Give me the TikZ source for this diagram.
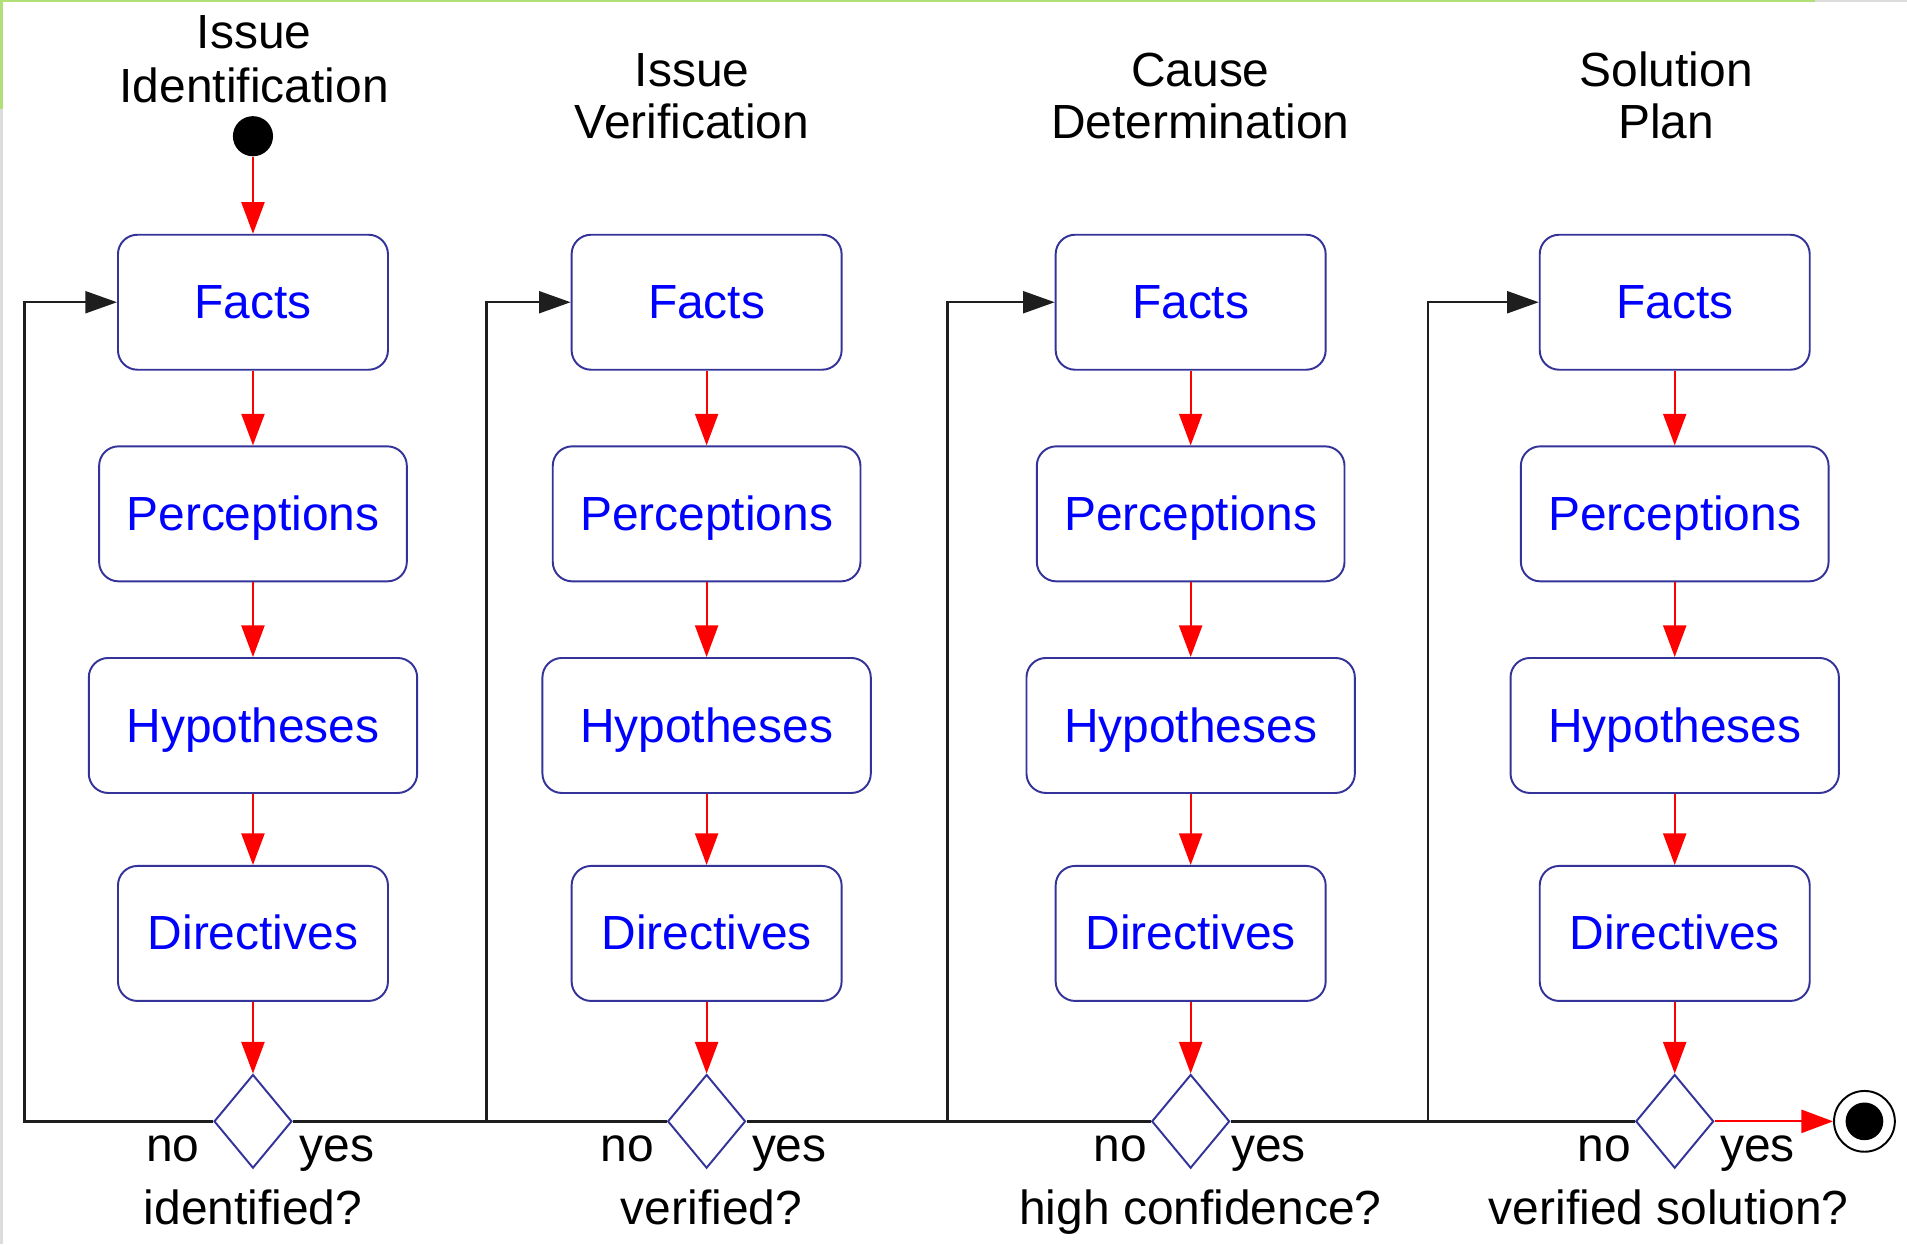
\documentclass[tikz,border=0pt]{standalone}
\usepackage{fontspec}
\setmainfont{Liberation Sans}
\usetikzlibrary{arrows.meta,shapes.geometric}
\definecolor{boxblue}{RGB}{51,51,153}
\definecolor{txtblue}{RGB}{0,0,255}
\definecolor{flowred}{RGB}{255,0,0}
\definecolor{loopgray}{RGB}{30,30,30}
\definecolor{scrgreen}{RGB}{178,224,120}
\definecolor{scrgray}{RGB}{220,220,220}
\begin{document}
\begin{tikzpicture}[x=0.5pt,y=-0.5pt,
  every node/.style={font=\fontsize{19.7pt}{21.85pt}\selectfont},
  stepbox/.style={draw=boxblue, line width=0.8pt, rounded corners=8pt, fill=white,
    minimum height=55.5pt, text=txtblue, text height=13.6pt, text depth=0pt, inner sep=0pt},
  decision/.style={shape=diamond, draw=boxblue, line width=0.8pt, fill=white,
    minimum width=32pt, minimum height=38.5pt, inner sep=0pt},
  redflow/.style={draw=flowred, line width=0.8pt, -{Triangle[length=13pt,width=9.5pt]}, color=flowred},
  loopflow/.style={draw=loopgray, line width=1pt, -{Triangle[length=13pt,width=9pt]}},
  loopline/.style={draw=loopgray, line width=1pt},
  lab/.style={anchor=base, inner sep=0pt, text=black},
]
\useasboundingbox (0,0) rectangle (1568,1023);
% screenshot edges
\fill[scrgreen] (0,0) rectangle (1492,1.6);
\fill[scrgray] (1492,0) rectangle (1568,1.6);
\fill[scrgreen] (0,0) rectangle (2.5,90);
\fill[scrgray] (0,90) rectangle (2.5,1023);

% titles
\node[lab] (t1a) at (209,40) {Issue};
\node[lab] (t1b) at (209,84) {Identification};
\node[lab] (t2a) at (569,71) {Issue};
\node[lab] (t2b) at (569,114) {Verification};
\node[lab] (t3a) at (987,71) {Cause};
\node[lab] (t3b) at (987,114) {Determination};
\node[lab] (t4a) at (1370,71) {Solution};
\node[lab] (t4b) at (1370,114) {Plan};

% start
\node[circle, fill=black, minimum size=16.5pt, inner sep=0pt] (start) at (208,112) {};

% columns
\foreach \i/\cx in {1/208,2/581,3/979,4/1377}{
  \node[stepbox, minimum width=111pt] (f\i) at (\cx,248.5) {Facts};
  \node[stepbox, minimum width=126.5pt] (p\i) at (\cx,422.5) {Perceptions};
  \node[stepbox, minimum width=135pt] (h\i) at (\cx,596.5) {Hypotheses};
  \node[stepbox, minimum width=111pt] (d\i) at (\cx,767.5) {Directives};
  \node[decision] (q\i) at (\cx,922) {};
  \draw[redflow] (f\i) -- (p\i);
  \draw[redflow] (p\i) -- (h\i);
  \draw[redflow] (h\i) -- (d\i);
  \draw[redflow] (d\i) -- (q\i);
}
\draw[redflow] (start) -- (f1);

% end
\node[circle, draw=black, line width=0.8pt, minimum size=25pt, inner sep=0pt,
  path picture={\fill[black] (path picture bounding box.center) circle (7.75pt);}] (endc) at (1533,922) {};
\draw[redflow] (q4.east) -- (endc.west);

% loops
\coordinate (j1) at (20,922);
\coordinate (j2) at (400,922);
\coordinate (j3) at (779,922);
\coordinate (j4) at (1174,922);
\draw[loopflow] (q1.west) -- (j1) |- (f1.west);
\draw[loopline] (q1.east) -- (j2);
\draw[loopflow] (q2.west) -- (j2) |- (f2.west);
\draw[loopline] (q2.east) -- (j3);
\draw[loopflow] (q3.west) -- (j3) |- (f3.west);
\draw[loopline] (q3.east) -- (j4);
\draw[loopflow] (q4.west) -- (j4) |- (f4.west);

% labels
\node[lab] (n1) at (142,955) {no};
\node[lab] (y1) at (277,955) {yes};
\node[lab] (n2) at (516,955) {no};
\node[lab] (y2) at (649,955) {yes};
\node[lab] (n3) at (921,955) {no};
\node[lab] (y3) at (1043,955) {yes};
\node[lab] (n4) at (1319,955) {no};
\node[lab] (y4) at (1445,955) {yes};
\node[lab] (c1) at (208,1007) {identified?};
\node[lab] (c2) at (585,1007) {verified?};
\node[lab] (c3) at (987,1007) {high confidence?};
\node[lab] (c4) at (1372,1007) {verified solution?};
\end{tikzpicture}
\end{document}
